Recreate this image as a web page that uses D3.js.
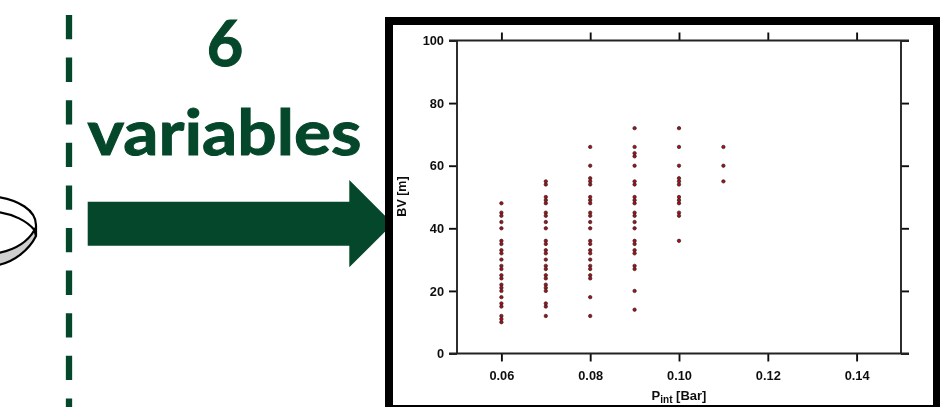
<!DOCTYPE html>
<html>
<head>
<meta charset="utf-8">
<script src="https://cdn.jsdelivr.net/npm/d3@7"></script>
<style>
  html, body { margin: 0; padding: 0; background: #fff; overflow: hidden; }
  svg { display: block; }
</style>
</head>
<body>
<div id="chart"></div>
<script>
// BV values seen in each Pint column
const pint = [0.06, 0.07, 0.08, 0.09, 0.10, 0.11];
const bv006 = [48, 45, 44, 42, 40, 36, 35, 33, 32, 30, 28, 27, 25, 24, 22, 21, 20, 18, 16, 15, 12, 11, 10];
const bv007 = [55, 54, 50, 49, 48, 45, 44, 42, 40, 36, 35, 33, 32, 30, 28, 27, 25, 24, 22, 21, 20, 16, 15, 12];
const bv008 = [66, 60, 56, 55, 54, 50, 49, 48, 45, 44, 42, 40, 36, 35, 33, 32, 30, 28, 27, 25, 24, 18, 12];
const bv009 = [72, 66, 64, 63, 60, 55, 54, 50, 49, 48, 45, 44, 42, 40, 36, 35, 33, 32, 28, 27, 20, 14];
const bv010 = [72, 66, 60, 56, 55, 54, 50, 49, 48, 45, 44, 36];
const bv011 = [66, 60, 55];
const columns = [bv006, bv007, bv008, bv009, bv010, bv011];

const xTicks = [0.06, 0.08, 0.10, 0.12, 0.14];
const yTicks = [0, 20, 40, 60, 80, 100];

const points = [];
columns.forEach((col, i) => col.forEach(v => points.push({p: pint[i], bv: v})));

const green = "#05472a";

const svg = d3.select("#chart").append("svg")
    .attr("width", 940)
    .attr("height", 407);

svg.append("defs").append("filter")
    .attr("id", "soft")
    .append("feGaussianBlur")
    .attr("stdDeviation", 0.4);

// dashed divider
svg.append("line")
    .attr("x1", 69).attr("x2", 69)
    .attr("y1", 15).attr("y2", 407)
    .attr("stroke", green)
    .attr("stroke-width", 6.3)
    .attr("stroke-dasharray", "24.3 18.3");

// piece of the disk cut by the left edge
const disk = svg.append("g")
    .attr("fill", "none")
    .attr("stroke", "#000")
    .attr("stroke-width", 2.2);
disk.append("path")
    .attr("d", "M-2,253 C14,250 27,243 34.5,230 L36,236 C29,250 14,262 -2,265 Z")
    .attr("fill", "#cfcfcf");
disk.append("path")
    .attr("d", "M-2,197 C18,200 36,210 36,225 L36,236");
disk.append("path")
    .attr("d", "M-2,212 C13,214 27,221 34.5,230");

// title text
svg.append("text")
    .attr("x", 225).attr("y", 66)
    .attr("text-anchor", "middle")
    .attr("font-family", "Lato")
    .attr("font-weight", 700)
    .attr("font-size", 63)
    .attr("fill", green)
    .attr("stroke", green)
    .attr("stroke-width", 1)
    .text("6");
svg.append("text")
    .attr("x", 87.5).attr("y", 155)
    .attr("font-family", "Lato")
    .attr("font-weight", 700)
    .attr("font-size", 63)
    .attr("fill", green)
    .attr("stroke", green)
    .attr("stroke-width", 1)
    .attr("textLength", 274)
    .attr("lengthAdjust", "spacingAndGlyphs")
    .text("variables");

// big arrow
svg.append("path")
    .attr("d", "M87.7,201.7 H349.3 V180 L393,223.7 L349.3,267.3 V245.7 H87.7 Z")
    .attr("fill", green);

// black frame of the inset
svg.append("rect")
    .attr("x", 389).attr("y", 21)
    .attr("width", 548).attr("height", 388)
    .attr("fill", "#fff")
    .attr("stroke", "#000")
    .attr("stroke-width", 8);

// the scatter
const x = d3.scaleLinear().domain([0.05, 0.15]).range([457, 901]);
const y = d3.scaleLinear().domain([0, 100]).range([353.5, 40.5]);

const plot = svg.append("g").attr("filter", "url(#soft)");

function styleAxis(g) {
    g.select(".domain").remove();
    g.selectAll("line").attr("stroke", "#111").attr("stroke-width", 1.9);
    g.selectAll("text")
        .attr("font-family", "Liberation Sans")
        .attr("font-weight", 700)
        .attr("font-size", 12.8)
        .attr("fill", "#111");
}

plot.append("g")
    .attr("transform", "translate(0,353.5)")
    .call(d3.axisBottom(x).tickValues(xTicks).tickFormat(d3.format(".2f")).tickSize(8).tickPadding(9))
    .call(styleAxis);
plot.append("g")
    .attr("transform", "translate(0,40.5)")
    .call(d3.axisTop(x).tickValues(xTicks).tickFormat("").tickSize(8))
    .call(styleAxis);
plot.append("g")
    .attr("transform", "translate(457,0)")
    .call(d3.axisLeft(y).tickValues(yTicks).tickFormat(d3.format("d")).tickSize(8).tickPadding(5))
    .call(styleAxis);
plot.append("g")
    .attr("transform", "translate(901,0)")
    .call(d3.axisRight(y).tickValues(yTicks).tickFormat("").tickSize(8))
    .call(styleAxis);

// box lines, drawn through the scales
const box = plot.append("g").attr("stroke", "#222").attr("stroke-width", 1.9);
box.append("line").attr("x1", x(0.05) - 8).attr("x2", x(0.15) + 8).attr("y1", y(100)).attr("y2", y(100));
box.append("line").attr("x1", x(0.05) - 8).attr("x2", x(0.15) + 8).attr("y1", y(0)).attr("y2", y(0));
box.append("line").attr("x1", x(0.05)).attr("x2", x(0.05)).attr("y1", y(100)).attr("y2", y(0));
box.append("line").attr("x1", x(0.15)).attr("x2", x(0.15)).attr("y1", y(100)).attr("y2", y(0));

plot.selectAll("circle.pt").data(points)
    .enter()
    .append("circle")
    .attr("class", "pt")
    .attr("cx", d => x(d.p))
    .attr("cy", d => y(d.bv))
    .attr("r", 1.7)
    .attr("fill", "#b00c18")
    .attr("stroke", "#222")
    .attr("stroke-width", 0.7);

// axis titles
plot.append("text")
    .attr("transform", "translate(406,196.5) rotate(-90)")
    .attr("text-anchor", "middle")
    .attr("font-family", "Liberation Sans")
    .attr("font-weight", 700)
    .attr("font-size", 12.5)
    .attr("fill", "#111")
    .text("BV [m]");

const xLabel = plot.append("text")
    .attr("x", 679).attr("y", 400)
    .attr("text-anchor", "middle")
    .attr("font-family", "Liberation Sans")
    .attr("font-weight", 700)
    .attr("font-size", 13)
    .attr("fill", "#111");
xLabel.append("tspan").text("P");
xLabel.append("tspan").attr("dy", 2.5).attr("font-size", 10).text("int");
xLabel.append("tspan").attr("dy", -2.5).text(" [Bar]");
</script>
</body>
</html>
